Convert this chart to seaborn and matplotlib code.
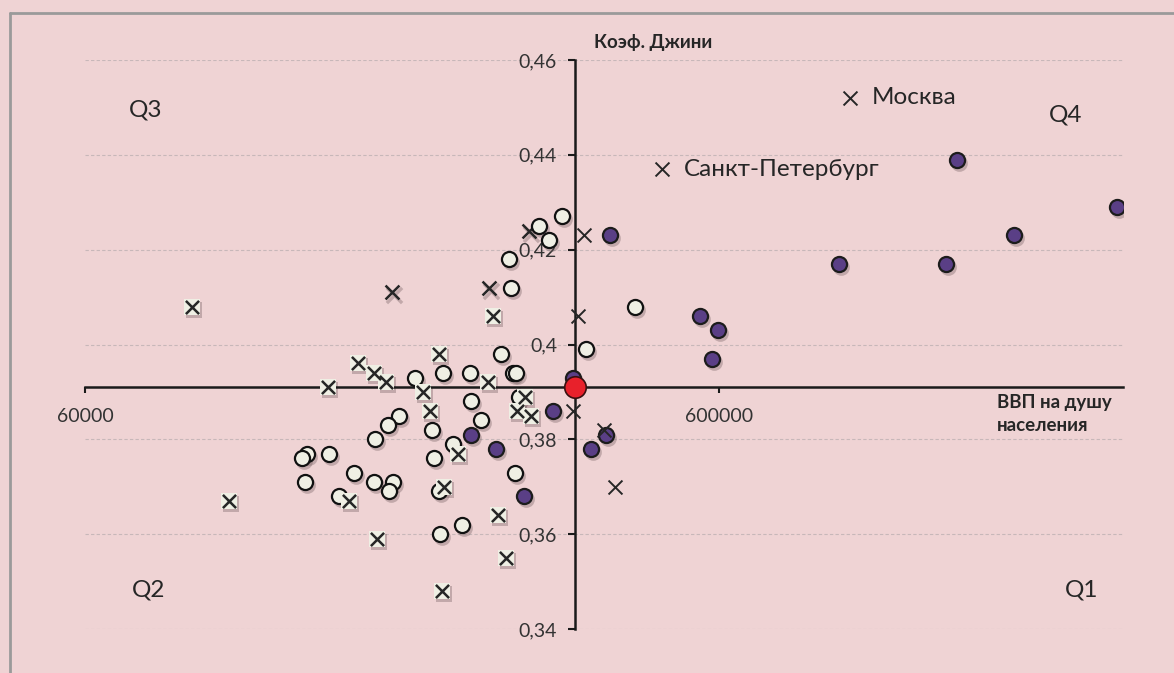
import seaborn as sns
import matplotlib.pyplot as plt
from matplotlib.ticker import FixedLocator, FuncFormatter, NullLocator
from matplotlib.transforms import offset_copy
from matplotlib.lines import Line2D

# регионы: ВВП на душу населения (руб.) и коэффициент Джини
white_gdp = [338500, 311700, 323600, 279900, 281600, 441700, 369400, 271300, 283900, 287000,
             242600, 219800, 198700, 243500, 252200, 211100, 187500, 180400, 289900, 171800,
             134100, 131700, 145500, 133300, 159200, 171200, 183200, 180800, 151000, 212900,
             227900, 217000, 285700, 235500, 217500]
white_gini = [0.427, 0.425, 0.422, 0.418, 0.412, 0.408, 0.399, 0.398, 0.394, 0.394,
              0.394, 0.394, 0.393, 0.388, 0.384, 0.382, 0.385, 0.383, 0.389, 0.380,
              0.377, 0.376, 0.377, 0.371, 0.373, 0.371, 0.371, 0.369, 0.368, 0.376,
              0.379, 0.369, 0.373, 0.362, 0.360]

purple_gdp = [403400, 559400, 596500, 584900, 352300, 328400, 243500, 266600, 376600, 295200,
              397600, 1424000, 2541000, 1752000, 927800, 1367000]
purple_gini = [0.423, 0.406, 0.403, 0.397, 0.393, 0.386, 0.381, 0.378, 0.378, 0.368,
               0.381, 0.439, 0.429, 0.423, 0.417, 0.417]

boxed_gdp = [88400, 101100, 144900, 161500, 171200, 178900, 217000, 204800, 209900, 259300,
             296300, 287800, 302800, 232500, 156500, 220800, 173300, 268900, 276500, 218900,
             263400]
boxed_gini = [0.408, 0.367, 0.391, 0.396, 0.394, 0.392, 0.398, 0.390, 0.386, 0.392,
              0.389, 0.386, 0.385, 0.377, 0.367, 0.370, 0.359, 0.364, 0.355, 0.348,
              0.406]

cross_sh_gdp = [182800, 259900, 300900]
cross_sh_gini = [0.411, 0.412, 0.424]

cross_gdp = [367500, 359100, 352700, 394700, 410900, 964000, 487000]
cross_gini = [0.423, 0.406, 0.386, 0.382, 0.370, 0.452, 0.437]
cross_names = ['', '', '', '', '', 'Москва', 'Санкт-Петербург']

russia_gdp = [355300]
russia_gini = [0.391]

y_ticks = [0.34, 0.36, 0.38, 0.40, 0.42, 0.44, 0.46]
x_ticks = [60000, 600000]

bg = '#efd3d4'
txt = '#262626'

sns.set_style('white')
plt.rcParams['font.family'] = ['Lato', 'Open Sans', 'DejaVu Sans']

fig = plt.figure(figsize=(11.74, 6.73), dpi=100, facecolor=bg)
ax = fig.add_axes([0.0727, 0.0654, 0.8839, 0.8454], facecolor=bg)
ax.set_xscale('log')

shadow = offset_copy(ax.transData, fig=fig, x=2, y=-3, units='dots')
sh = dict(color='#6e5a5c', alpha=0.35, linewidth=0, legend=False, ax=ax, transform=shadow, zorder=2)

# тени
sns.scatterplot(x=cross_sh_gdp, y=cross_sh_gini, marker='x', s=120, **{**sh, 'linewidth': 2.4})
sns.scatterplot(x=white_gdp, y=white_gini, marker='o', s=145, **sh)
sns.scatterplot(x=purple_gdp, y=purple_gini, marker='o', s=145, **sh)
sns.scatterplot(x=boxed_gdp, y=boxed_gini, marker='s', s=145, **sh)

sns.scatterplot(x=cross_sh_gdp, y=cross_sh_gini, marker='x', s=100, color=txt,
                linewidth=1.8, legend=False, ax=ax, zorder=3)
sns.scatterplot(x=white_gdp, y=white_gini, marker='o', s=118, color='#efefe4',
                edgecolor='#111111', linewidth=1.6, legend=False, ax=ax, zorder=3)
sns.scatterplot(x=purple_gdp, y=purple_gini, marker='o', s=118, color='#5a3f86',
                edgecolor='#1c1c1c', linewidth=1.6, legend=False, ax=ax, zorder=4)
sns.scatterplot(x=boxed_gdp, y=boxed_gini, marker='s', s=130, color='#efefe4',
                linewidth=0, legend=False, ax=ax, zorder=5)
sns.scatterplot(x=boxed_gdp, y=boxed_gini, marker='x', s=90, color=txt,
                linewidth=1.8, legend=False, ax=ax, zorder=6)
sns.scatterplot(x=cross_gdp, y=cross_gini, marker='x', s=100, color=txt,
                linewidth=1.4, legend=False, ax=ax, zorder=6)
sns.scatterplot(x=russia_gdp, y=russia_gini, marker='o', s=240, color='#e8212b',
                edgecolor='#3a1010', linewidth=1.2, legend=False, ax=ax, zorder=7)

for gx, gy, name in zip(cross_gdp, cross_gini, cross_names):
    if name:
        ax.annotate(name, (gx, gy), xytext=(16, 0), textcoords='offset points',
                    va='center', ha='left', fontsize=17.5, color=txt)

ax.set_xlim(60000, 2600000)
ax.set_ylim(0.34, 0.46)

# оси пересекаются в среднем по России
for side in ['top', 'right']:
    ax.spines[side].set_visible(False)
ax.spines['left'].set_position(('data', russia_gdp[0]))
ax.spines['bottom'].set_position(('data', russia_gini[0]))
for side in ['left', 'bottom']:
    ax.spines[side].set_color('#1a1a1a')
    ax.spines[side].set_linewidth(1.8)
    ax.spines[side].set_zorder(2.5)

ax.yaxis.set_major_locator(FixedLocator(y_ticks))
ax.yaxis.set_major_formatter(FuncFormatter(lambda v, p: f'{v:g}'.replace('.', ',')))
ax.xaxis.set_major_locator(FixedLocator(x_ticks))
ax.xaxis.set_minor_locator(NullLocator())
ax.xaxis.set_major_formatter(FuncFormatter(lambda v, p: f'{v:.0f}'))
ax.tick_params(axis='y', direction='out', length=5, width=1.5, color='#1a1a1a',
               pad=8, labelsize=14, labelcolor='#333333', left=True)
ax.tick_params(axis='x', direction='out', length=4, width=1.5, color='#1a1a1a',
               pad=11, labelsize=14, labelcolor='#333333', bottom=True)
ax.set_xlabel('')
ax.set_ylabel('')

ax.yaxis.grid(True, color='#c7b7b9', linestyle=(0, (3, 2)), linewidth=0.8)
ax.xaxis.grid(False)
ax.set_axisbelow(True)

ax.text(0.547, 1.031, 'Коэф. Джини', transform=ax.transAxes, ha='center', va='center',
        fontsize=13.5, fontweight='bold', color=txt)
ax.text(0.8786, 0.378, 'ВВП на душу\nнаселения', transform=ax.transAxes, ha='left',
        va='center', fontsize=13.5, fontweight='bold', color=txt, linespacing=1.4)

for label, qx, qy in [('Q3', 0.0585, 0.912), ('Q4', 0.9446, 0.903),
                      ('Q2', 0.0605, 0.0685), ('Q1', 0.960, 0.0685)]:
    ax.text(qx, qy, label, transform=ax.transAxes, ha='center', va='center',
            fontsize=17.5, color=txt)

# рамка
fig.add_artist(Line2D([10 / 1174, 10 / 1174], [0, 1 - 13 / 673], color='#9a9a9a',
                      linewidth=2, transform=fig.transFigure))
fig.add_artist(Line2D([10 / 1174, 1], [1 - 13 / 673, 1 - 13 / 673], color='#9a9a9a',
                      linewidth=2, transform=fig.transFigure))

fig.savefig('out.png', dpi=100, facecolor=bg)
